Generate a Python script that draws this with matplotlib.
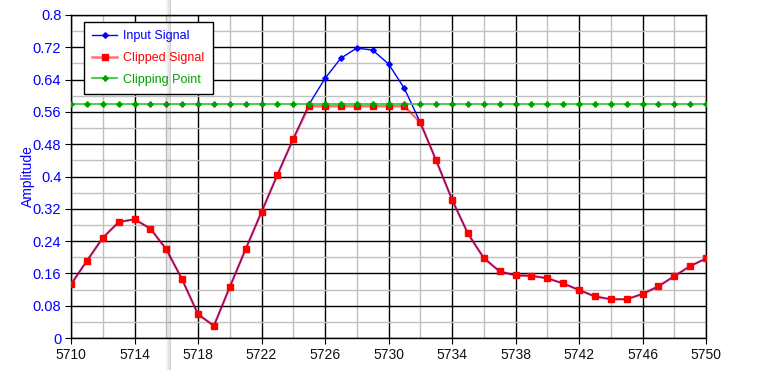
import matplotlib
matplotlib.use('Agg')
import matplotlib.pyplot as plt
from matplotlib.ticker import MultipleLocator
from matplotlib.patches import Rectangle

# Dữ liệu
sample_index = list(range(5710, 5751))

input_signal = [
    0.133, 0.191, 0.248, 0.287, 0.294, 0.271, 0.220, 0.145, 0.059, 0.030,
    0.126, 0.220, 0.312, 0.404, 0.493, 0.579, 0.643, 0.693, 0.718, 0.713,
    0.679, 0.618, 0.534, 0.440, 0.343, 0.259, 0.198, 0.165, 0.155, 0.154,
    0.148, 0.135, 0.119, 0.103, 0.096, 0.096, 0.109, 0.128, 0.153, 0.178,
    0.197,
]

clipped_signal = [
    0.133, 0.191, 0.248, 0.287, 0.294, 0.271, 0.220, 0.145, 0.059, 0.030,
    0.126, 0.220, 0.312, 0.404, 0.493, 0.574, 0.574, 0.574, 0.574, 0.574,
    0.574, 0.574, 0.534, 0.440, 0.343, 0.259, 0.198, 0.165, 0.155, 0.154,
    0.148, 0.135, 0.119, 0.103, 0.096, 0.096, 0.109, 0.128, 0.153, 0.178,
    0.197,
]

clipping_point = [0.58] * len(sample_index)

x_ticks = [5710, 5714, 5718, 5722, 5726, 5730, 5734, 5738, 5742, 5746, 5750]
y_ticks = [0, 0.08, 0.16, 0.24, 0.32, 0.4, 0.48, 0.56, 0.64, 0.72, 0.8]
y_tick_labels = ['0', '0.08', '0.16', '0.24', '0.32', '0.4', '0.48',
                 '0.56', '0.64', '0.72', '0.8']

plt.rcParams['font.family'] = ['Liberation Sans', 'DejaVu Sans']

fig = plt.figure(figsize=(7.67, 3.70), dpi=100)
ax = fig.add_axes([71 / 767, 1 - 338 / 370, 635 / 767, 323 / 370])

# Lưới: đường chính màu đen, đường phụ màu xám
ax.xaxis.set_minor_locator(MultipleLocator(2))
ax.yaxis.set_minor_locator(MultipleLocator(0.04))
ax.grid(which='minor', color='#c0c0c0', linewidth=1, zorder=0)
ax.grid(which='major', color='black', linewidth=1, zorder=0.5)
ax.set_axisbelow(True)

ax.plot(sample_index, input_signal, color='#0000ff', linewidth=1,
        marker='D', markersize=2.8, label='Input Signal', zorder=2)
ax.plot(sample_index, clipped_signal, color=(1, 0, 0, 0.55), linewidth=1.8,
        marker='s', markersize=5, markerfacecolor='#ff0000',
        markeredgecolor='#ff0000', label='Clipped Signal', zorder=3)
ax.plot(sample_index, clipping_point, color='#40c840', linewidth=1.3,
        marker='P', markersize=3.5, markerfacecolor='#00a000',
        markeredgecolor='#00a000', label='Clipping Point', zorder=4)

ax.set_xlim(5710, 5750)
ax.set_ylim(0, 0.8)
ax.set_xticks(x_ticks)
ax.set_yticks(y_ticks)
ax.set_yticklabels(y_tick_labels)

ax.tick_params(axis='y', which='major', direction='out', length=4,
               colors='black', labelcolor='#0000ff', labelsize=10.5, pad=3)
ax.tick_params(axis='x', which='major', direction='out', length=4,
               colors='black', labelcolor='#101010', labelsize=10, pad=3)
ax.tick_params(which='minor', length=0)

for side in ax.spines:
    ax.spines[side].set_color('black')
    ax.spines[side].set_linewidth(1)

ax.set_ylabel('Amplitude', color='#0000ff', fontsize=10)
ax.yaxis.set_label_coords(-36 / 635, 0.5)

leg = ax.legend(loc='upper left', bbox_to_anchor=(13 / 635, 1 - 7 / 323),
                frameon=True, fancybox=False, fontsize=9, handlelength=2.0,
                borderpad=0.65, labelspacing=0.78, handletextpad=0.5,
                borderaxespad=0)
leg.get_frame().set_edgecolor('black')
leg.get_frame().set_linewidth(1)
leg.get_frame().set_alpha(1)
for text, col in zip(leg.get_texts(), ['#0000ff', '#ff0000', '#00a000']):
    text.set_color(col)

# Vệt xám dọc chạy suốt chiều cao hình (bóng con trỏ), bán trong suốt
shade_alpha = [0.03, 0.06, 0.09, 0.13, 0.18]
for i, a in enumerate(shade_alpha):
    fig.patches.append(Rectangle(((166 + i) / 767, 0), 1 / 767, 1,
                                 transform=fig.transFigure, color='black',
                                 alpha=a, linewidth=0, zorder=10))

fig.savefig('out.png', dpi=100)
plt.close(fig)
